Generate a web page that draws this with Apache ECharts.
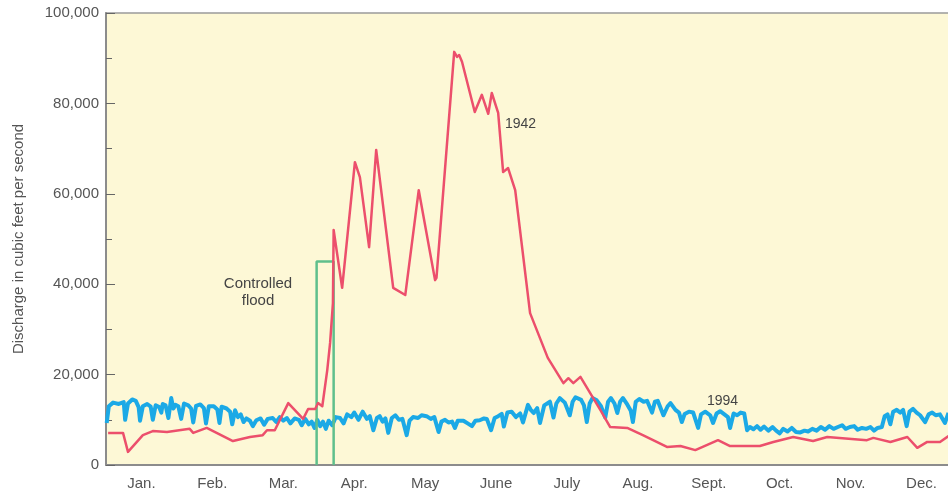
<!DOCTYPE html>
<html>
<head>
<meta charset="utf-8">
<script src="https://cdn.jsdelivr.net/npm/echarts@6/dist/echarts.min.js"></script>
<style>
  html, body { margin: 0; padding: 0; background: #fff; }
  #chart { width: 948px; height: 494px; }
</style>
</head>
<body>
<div id="chart"></div>
<script>
/* -------------------------------------------------------------------------- */
/*                 Colorado River discharge at Lees Ferry                     */
/* -------------------------------------------------------------------------- */

const months = ['Jan.', 'Feb.', 'Mar.', 'Apr.', 'May', 'June', 'July', 'Aug.', 'Sept.', 'Oct.', 'Nov.', 'Dec.'];
const yTicks = [0, 20000, 40000, 60000, 80000, 100000];

// [month position, discharge in thousands of cfs]
const flow1942 = [
  [0.03, 7.1], [0.24, 7.1], [0.31, 2.9], [0.52, 6.6], [0.66, 7.5], [0.86, 7.3],
  [1.18, 8.0], [1.23, 7.1], [1.42, 8.2], [1.79, 5.3], [2.03, 6.2], [2.21, 6.6],
  [2.27, 7.7], [2.38, 7.7], [2.57, 13.7], [2.78, 10.2], [2.85, 12.4], [2.95, 12.4],
  [2.99, 13.7], [3.05, 13.0], [3.12, 21.0], [3.16, 27.0], [3.20, 35.8], [3.21, 52.0],
  [3.33, 39.2], [3.51, 67.0], [3.58, 63.7], [3.71, 48.2], [3.81, 69.7], [4.05, 39.2],
  [4.22, 37.6], [4.41, 60.8], [4.64, 40.9], [4.66, 41.4], [4.91, 91.4], [4.95, 90.3],
  [4.98, 90.7], [5.02, 89.2], [5.20, 78.1], [5.30, 81.9], [5.39, 77.7], [5.44, 82.3],
  [5.53, 77.9], [5.60, 64.8], [5.67, 65.7], [5.77, 60.8], [5.98, 33.6], [6.23, 23.7],
  [6.45, 18.1], [6.52, 19.2], [6.59, 18.1], [6.69, 19.5], [6.97, 12.2], [7.11, 8.4],
  [7.35, 8.2], [7.57, 6.6], [7.91, 4.0], [8.10, 4.2], [8.31, 3.3], [8.63, 5.5],
  [8.80, 4.2], [9.22, 4.2], [9.41, 5.1], [9.69, 6.2], [9.97, 5.3], [10.17, 6.2],
  [10.73, 5.5], [10.82, 6.0], [11.06, 5.1], [11.30, 6.2], [11.44, 3.8], [11.58, 5.1],
  [11.76, 5.1], [11.88, 6.4]
];

const flow1994 = [
  [0.01, 9.3], [0.04, 13.0], [0.10, 13.8], [0.18, 13.5], [0.25, 13.9], [0.27, 10.0],
  [0.31, 13.6], [0.37, 14.5], [0.42, 14.2], [0.46, 12.8], [0.48, 9.8], [0.52, 13.0],
  [0.58, 13.5], [0.63, 12.9], [0.66, 10.0], [0.70, 13.2], [0.75, 12.8], [0.78, 11.6],
  [0.80, 13.5], [0.84, 13.2], [0.88, 10.4], [0.92, 14.8], [0.95, 12.5], [0.98, 13.3],
  [1.02, 13.0], [1.06, 10.2], [1.10, 13.6], [1.16, 13.2], [1.20, 12.5], [1.23, 9.4],
  [1.27, 13.1], [1.33, 13.4], [1.38, 12.6], [1.41, 9.2], [1.45, 13.0], [1.52, 13.0],
  [1.57, 12.3], [1.60, 9.3], [1.63, 12.9], [1.70, 12.5], [1.75, 11.8], [1.78, 9.0],
  [1.82, 12.1], [1.86, 10.6], [1.90, 11.2], [1.94, 9.5], [1.98, 10.3],
  [2.03, 9.8], [2.07, 8.6], [2.12, 9.9], [2.18, 10.3], [2.23, 8.9], [2.28, 10.2],
  [2.35, 10.4], [2.40, 9.5], [2.45, 10.6], [2.50, 9.8], [2.55, 10.4], [2.60, 9.2],
  [2.66, 10.3], [2.72, 10.0], [2.76, 8.8], [2.81, 10.2], [2.86, 9.0], [2.90, 9.6],
  [2.94, 8.2], [2.98, 10.0],
  [3.02, 8.6], [3.06, 9.6], [3.10, 8.0], [3.14, 9.8], [3.19, 8.8], [3.24, 10.6],
  [3.30, 10.4], [3.35, 9.2], [3.40, 11.2], [3.46, 10.6], [3.50, 11.6], [3.56, 10.0],
  [3.62, 11.8], [3.68, 10.2], [3.72, 10.8], [3.77, 7.7], [3.82, 10.4], [3.86, 10.8],
  [3.90, 9.6], [3.94, 10.3], [3.98, 7.1],
  [4.03, 10.4], [4.08, 11.0], [4.13, 10.0], [4.18, 10.2], [4.24, 6.6], [4.28, 9.8],
  [4.33, 10.6], [4.40, 10.4], [4.45, 11.0], [4.52, 10.8], [4.58, 10.2], [4.63, 10.6],
  [4.69, 7.3], [4.73, 9.6], [4.78, 10.0], [4.83, 9.4], [4.88, 9.6], [4.92, 8.2],
  [4.96, 9.8],
  [5.04, 9.8], [5.10, 9.2], [5.16, 8.6], [5.21, 9.8], [5.27, 9.9], [5.33, 10.3],
  [5.37, 10.2], [5.43, 7.7], [5.48, 10.4], [5.53, 10.8], [5.58, 11.3], [5.61, 8.5],
  [5.66, 11.6], [5.72, 11.8], [5.78, 10.6], [5.84, 11.4], [5.88, 9.4], [5.95, 13.3],
  [5.99, 12.2],
  [6.03, 11.5], [6.08, 12.6], [6.12, 9.3], [6.18, 13.2], [6.26, 14.0], [6.31, 10.5],
  [6.35, 13.6], [6.40, 14.8], [6.47, 13.8], [6.54, 11.0], [6.58, 14.0], [6.62, 15.0],
  [6.70, 14.4], [6.74, 13.2], [6.78, 9.5], [6.82, 13.6], [6.86, 14.8], [6.92, 14.3],
  [6.98, 13.0], [7.04, 10.5], [7.08, 14.0], [7.12, 14.8], [7.17, 13.6], [7.21, 11.5],
  [7.25, 14.0], [7.29, 14.8], [7.35, 13.4], [7.40, 12.0], [7.43, 9.5], [7.47, 14.0],
  [7.52, 14.6], [7.58, 14.0], [7.63, 14.2], [7.70, 11.6], [7.74, 14.0], [7.78, 14.2],
  [7.86, 11.0], [7.92, 13.0], [7.96, 13.7], [8.03, 12.2], [8.08, 11.6], [8.12, 9.5],
  [8.16, 11.3], [8.22, 11.8], [8.28, 11.6], [8.35, 8.2], [8.39, 11.2], [8.45, 11.8],
  [8.52, 11.0], [8.56, 9.3], [8.61, 11.4], [8.66, 11.9], [8.72, 11.2], [8.77, 10.6],
  [8.80, 8.2], [8.85, 11.4], [8.90, 11.0], [8.95, 11.6], [9.00, 11.4], [9.04, 7.7],
  [9.08, 8.4], [9.13, 7.9], [9.18, 8.6], [9.23, 7.8], [9.28, 8.5], [9.34, 7.6],
  [9.40, 8.4], [9.45, 7.6], [9.50, 7.0], [9.55, 8.0], [9.61, 7.4], [9.67, 8.2],
  [9.73, 7.3], [9.79, 7.2], [9.85, 7.6], [9.90, 7.4], [9.96, 8.0], [10.02, 7.6],
  [10.08, 8.4], [10.14, 7.8], [10.20, 8.6], [10.26, 8.0], [10.32, 8.4], [10.38, 8.8],
  [10.43, 8.0], [10.49, 8.4], [10.55, 8.6], [10.60, 7.8], [10.66, 8.2], [10.72, 8.0],
  [10.78, 8.4], [10.83, 7.6], [10.88, 8.2], [10.94, 8.4], [10.98, 10.8], [11.02, 11.2],
  [11.06, 9.0], [11.10, 11.8], [11.15, 12.2], [11.20, 11.6], [11.24, 12.2], [11.29, 8.6],
  [11.33, 11.8], [11.38, 12.4], [11.43, 11.6], [11.48, 11.0], [11.55, 9.5], [11.60, 11.2],
  [11.65, 11.6], [11.70, 11.0], [11.76, 11.2], [11.83, 9.3], [11.88, 11.5]
];

// controlled flood of 1996: start, end (month position) and peak (thousands cfs)
const floodStart = 2.97;
const floodEnd = 3.21;
const floodPeak = 45;

const toCfs = arr => arr.map(d => [d[0], d[1] * 1000]);

const GRAY_TEXT = '#555';
const AXIS_GRAY = '#8c8c8c';
const FONT = '"Liberation Sans", Arial, sans-serif';

const chart = echarts.init(document.getElementById('chart'));

const option = {
  animation: false,
  textStyle: { fontFamily: FONT },
  grid: {
    left: 106,
    top: 13,
    bottom: 29,
    right: -9, // plot runs past the right edge of the picture
    outerBoundsMode: 'none',
    containLabel: false,
    show: true,
    backgroundColor: '#fdf8d6',
    borderColor: '#9a9a9a',
    borderWidth: 1.5
  },
  xAxis: [
    {
      type: 'category',
      data: months,
      boundaryGap: true,
      axisLine: { lineStyle: { color: AXIS_GRAY, width: 2 } },
      axisTick: { inside: true, length: 8, lineStyle: { color: '#666', width: 1 } },
      axisLabel: { color: GRAY_TEXT, fontSize: 15, margin: 11, fontFamily: FONT },
      splitLine: { show: false }
    },
    {
      type: 'value',
      min: 0,
      max: 12,
      show: false
    }
  ],
  yAxis: {
    type: 'value',
    min: yTicks[0],
    max: yTicks[yTicks.length - 1],
    interval: yTicks[1] - yTicks[0],
    name: 'Discharge in cubic feet per second',
    nameLocation: 'middle',
    nameRotate: 90,
    nameGap: 80,
    nameTextStyle: { color: GRAY_TEXT, fontSize: 15, fontFamily: FONT },
    axisLine: { show: true, lineStyle: { color: AXIS_GRAY, width: 2 } },
    axisTick: { show: true, inside: true, length: 9, lineStyle: { color: '#666', width: 1 } },
    minorTick: { show: true, splitNumber: 2, length: 6, lineStyle: { color: '#666', width: 1 } },
    axisLabel: {
      color: GRAY_TEXT,
      fontSize: 15,
      margin: 7,
      fontFamily: FONT,
      formatter: v => v.toLocaleString('en-US')
    },
    splitLine: { show: false }
  },
  series: [
    {
      name: '1994',
      type: 'line',
      xAxisIndex: 1,
      data: toCfs(flow1994),
      showSymbol: false,
      lineStyle: { color: '#1ba9e6', width: 4, join: 'round' },
      z: 2
    },
    {
      name: 'Controlled flood',
      type: 'line',
      xAxisIndex: 1,
      data: [[floodStart, 0], [floodStart, floodPeak * 1000], [floodEnd, floodPeak * 1000], [floodEnd, 0]],
      showSymbol: false,
      lineStyle: { color: '#5fbf8c', width: 2.5 },
      z: 3
    },
    {
      name: '1942',
      type: 'line',
      xAxisIndex: 1,
      data: toCfs(flow1942),
      showSymbol: false,
      lineStyle: { color: '#ec4f6c', width: 2.5, join: 'round' },
      z: 4
    }
  ],
  graphic: [
    {
      type: 'text',
      x: 258,
      y: 275,
      style: {
        text: 'Controlled\nflood',
        fill: '#444',
        font: '15px ' + FONT,
        align: 'center',
        lineHeight: 17
      }
    },
    {
      type: 'text',
      x: 505,
      y: 117,
      style: { text: '1942', fill: '#444', font: '14px ' + FONT }
    },
    {
      type: 'text',
      x: 707,
      y: 394,
      style: { text: '1994', fill: '#444', font: '14px ' + FONT }
    }
  ]
};

chart.setOption(option);
</script>
</body>
</html>
